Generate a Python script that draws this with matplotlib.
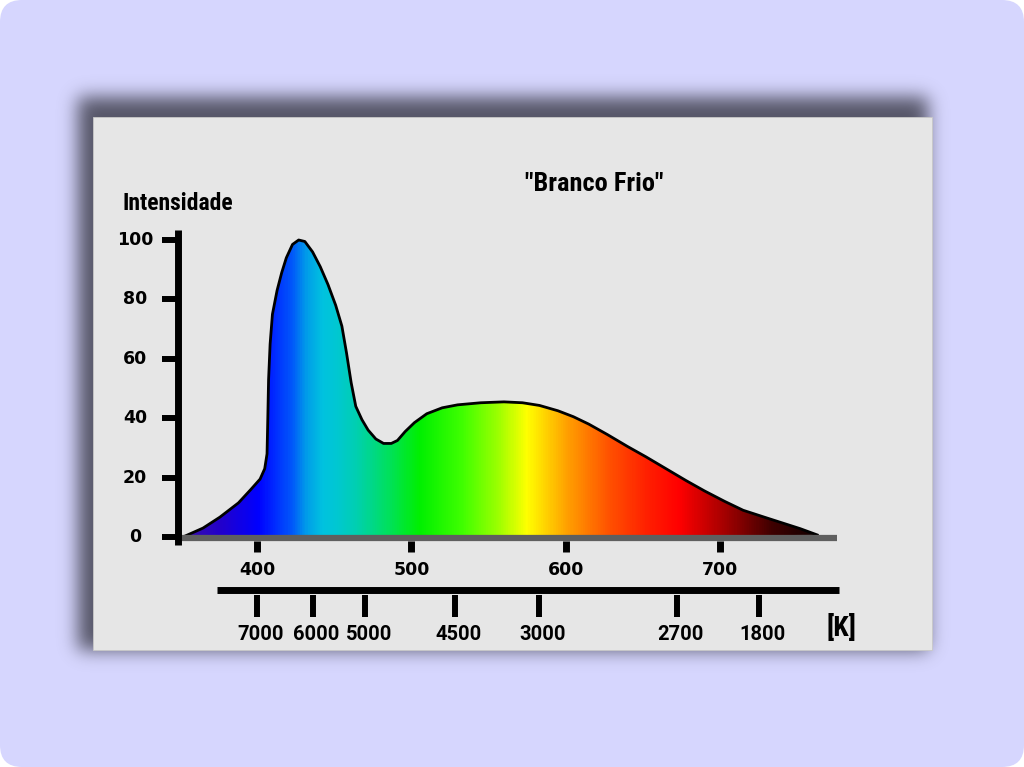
#!/usr/bin/env python3
"""Cool-white ("Branco Frio") lamp spectrum with a colour-temperature scale."""
import numpy as np
import matplotlib
matplotlib.use("Agg")
import matplotlib.pyplot as plt
from matplotlib.colors import LinearSegmentedColormap, to_rgb
from matplotlib.patches import FancyBboxPatch, Rectangle, Polygon

W, H, DPI = 1024, 767, 100

# spectrum: wavelength (nm) -> relative intensity
WAVELENGTH = [352, 365, 376, 388, 396, 402, 405, 406.5, 407, 407.5, 408.5, 410,
              413, 416, 419, 423, 427, 431, 436, 441, 446, 451, 455, 458, 461,
              464, 468, 472, 477, 482, 487, 491, 496, 502, 510, 520, 530, 545,
              560, 572, 583, 595, 605, 615, 627, 640, 652, 665, 678, 690, 703,
              715, 728, 740, 752, 763]
INTENSITY = [0, 3, 6.7, 11.5, 16, 19.5, 23, 28, 40, 53, 65, 75,
             83, 89, 94, 98.5, 100, 99.5, 96, 91, 85, 78, 71, 62, 52,
             44, 39.5, 36, 33, 31.5, 31.5, 32.5, 35.5, 38.5, 41.5, 43.5, 44.5, 45.2,
             45.5, 45.2, 44.3, 42.5, 40.5, 38, 34.5, 30.5, 27, 23, 19, 15.5, 12,
             9, 6.8, 4.8, 2.8, 0.7]

X_TICKS = [400, 500, 600, 700]
Y_TICKS = [0, 20, 40, 60, 80, 100]
KELVIN_LABELS = ["7000", "6000", "5000", "4500", "3000", "2700", "1800"]
KELVIN_POS = [400, 436, 470, 528, 582.5, 672, 725]

# colours of the spectrum fill (nm, colour)
STOP_NM = [352, 376, 400, 412, 422, 432, 442, 452, 464, 484, 505, 533, 557, 575,
           601, 629, 653, 674, 705, 734, 764]
STOP_COLOR = ["#3a10a8", "#2200cc", "#0000ff", "#0030ff", "#0058fa", "#00a0e8",
              "#00c2e0", "#00c8d0", "#00d0b0", "#00e060", "#00f000", "#40ff00",
              "#a0ff00", "#ffff00", "#ffa000", "#ff5000", "#ff2000", "#ff0000",
              "#a00000", "#400000", "#100000"]

# pixel geometry of the data frame
PX_400, PX_700 = 257, 720
PY_0, PY_100 = 537, 240
XLIM = (300, 800)
YLIM = (-40, 115)

TICK_FONT = dict(family="DejaVu Sans", fontweight="bold", fontsize=12.5)
K_FONT = dict(family=["Roboto", "DejaVu Sans"], fontweight="bold", fontsize=14.5)
COND = ["Roboto Condensed", "Roboto", "DejaVu Sans"]


def px(v):
    return PX_400 + (v - 400) * (PX_700 - PX_400) / 300


def py(v):
    return PY_0 - v * (PY_0 - PY_100) / 100


def blurred_rect(x0, y0, x1, y1, sigma):
    mask = np.zeros((H, W))
    mask[y0:y1, x0:x1] = 1.0
    r = np.arange(-3 * sigma, 3 * sigma + 1)
    k = np.exp(-r ** 2 / (2 * sigma ** 2))
    k /= k.sum()
    mask = np.apply_along_axis(lambda a: np.convolve(a, k, mode="same"), 1, mask)
    mask = np.apply_along_axis(lambda a: np.convolve(a, k, mode="same"), 0, mask)
    return mask


fig = plt.figure(figsize=(W / DPI, H / DPI), dpi=DPI, facecolor="white")

# page background, shadow and panel, in pixel coordinates
bg = fig.add_axes([0, 0, 1, 1])
bg.set_xlim(0, W)
bg.set_ylim(H, 0)
bg.axis("off")
bg.add_patch(FancyBboxPatch((0, 0), W, H, boxstyle="round,pad=0,rounding_size=22",
                            facecolor="#d6d6fe", edgecolor="none"))
shadow = np.zeros((H, W, 4))
shadow[..., :3] = to_rgb("#3e3e4c")
shadow[..., 3] = 0.85 * blurred_rect(78, 97, 928, 650, 9)
bg.imshow(shadow, extent=[0, W, H, 0], interpolation="bilinear", zorder=1)
bg.add_patch(Rectangle((93, 117), 932 - 93, 650 - 117, facecolor="#e6e6e6",
                       edgecolor="#c8c8c8", linewidth=0.6, zorder=2))
bg.text(594, 184, '"Branco Frio"', ha="center", va="center", fontsize=19,
        family=COND, fontweight="bold", zorder=3)
bg.text(123, 204, "Intensidade", ha="left", va="center", fontsize=17,
        family=COND, fontweight="bold", zorder=3)
bg.text(842, 628, "[K]", ha="center", va="center", fontsize=20,
        family=COND, fontweight="bold", zorder=3)

# data axes aligned to the panel drawing
left, right = px(XLIM[0]) / W, px(XLIM[1]) / W
bottom, top = 1 - py(YLIM[0]) / H, 1 - py(YLIM[1]) / H
ax = fig.add_axes([left, bottom, right - left, top - bottom])
ax.set_xlim(*XLIM)
ax.set_ylim(*YLIM)
ax.axis("off")
ax.patch.set_alpha(0)

# gradient fill clipped by the spectrum outline
cmap = LinearSegmentedColormap.from_list(
    "spectrum",
    [((nm - STOP_NM[0]) / (STOP_NM[-1] - STOP_NM[0]), c) for nm, c in zip(STOP_NM, STOP_COLOR)])
poly = Polygon(np.column_stack([WAVELENGTH, INTENSITY]), closed=True,
               facecolor="none", edgecolor="none")
ax.add_patch(poly)
grad = np.linspace(0, 1, 800)[None, :]
im = ax.imshow(grad, extent=[STOP_NM[0], STOP_NM[-1], 0, 101], aspect="auto",
               cmap=cmap, origin="lower", interpolation="bilinear", zorder=2)
im.set_clip_path(poly)
ax.plot(WAVELENGTH, INTENSITY, color="black", linewidth=2.0, zorder=3,
        solid_joinstyle="round")

# wavelength axis
ax.plot([348.8, 776], [-0.5, -0.5], color="#5f5f5f", linewidth=4.5, zorder=4,
        solid_capstyle="butt", clip_on=False)
for t in X_TICKS:
    ax.plot([t, t], [-1.5, -5.1], color="black", linewidth=5, zorder=4,
            solid_capstyle="butt", clip_on=False)
    ax.text(t, -11.1, str(t), ha="center", va="center", **TICK_FONT)

# intensity axis
ax.plot([348.8, 348.8], [-2.7, 103.4], color="black", linewidth=5, zorder=5,
        solid_capstyle="butt", clip_on=False)
for t in Y_TICKS:
    ax.plot([338.4, 348.8], [t, t], color="black", linewidth=4.3, zorder=5,
            solid_capstyle="butt", clip_on=False)
    ax.text(320.9, t, str(t), ha="center", va="center", **TICK_FONT)

# colour temperature scale
ax.plot([374.1, 777.1], [-18, -18], color="black", linewidth=5, zorder=4,
        solid_capstyle="butt", clip_on=False)
for k, lab in zip(KELVIN_POS, KELVIN_LABELS):
    ax.plot([k, k], [-19.5, -27], color="black", linewidth=4.3, zorder=4,
            solid_capstyle="butt", clip_on=False)
    ax.annotate(lab, (k, -32.7), xytext=(4, 0), textcoords="offset pixels",
                ha="center", va="center", **K_FONT)

fig.savefig("out.png", dpi=DPI, facecolor=fig.get_facecolor())
